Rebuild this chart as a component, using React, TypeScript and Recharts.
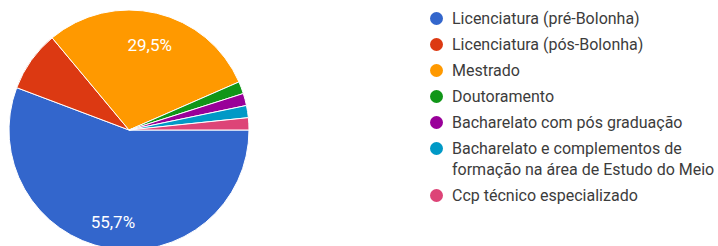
import React from "react";
import { PieChart, Pie, Cell, Legend } from "recharts";

const categories = [
  "Licenciatura (pré-Bolonha)",
  "Licenciatura (pós-Bolonha)",
  "Mestrado",
  "Doutoramento",
  "Bacharelato com pós graduação",
  "Bacharelato e complementos de formação na área de Estudo do Meio",
  "Ccp técnico especializado",
];
const counts = [34, 5, 18, 1, 1, 1, 1];
const colors = ["#3366cc", "#dc3912", "#ff9900", "#109618", "#990099", "#0099c6", "#dd4477"];

const data = categories.map((name, i) => ({ name, value: counts[i] }));
const RADIAN = Math.PI / 180;

const renderLabel = (props: any) => {
  const { cx, cy, midAngle, outerRadius, percent } = props;
  if (percent < 0.1) return null;
  const r = outerRadius * 0.75;
  const x = cx + r * Math.cos(-midAngle * RADIAN);
  const y = cy + r * Math.sin(-midAngle * RADIAN) + 3;
  return (
    <text
      x={x}
      y={y}
      fill="#ffffff"
      textAnchor="middle"
      dominantBaseline="central"
      style={{ fontFamily: "Roboto, Arial, sans-serif", fontSize: 17 }}
    >
      {(percent * 100).toFixed(1).replace(".", ",") + "%"}
    </text>
  );
};

const renderLegend = () => (
  <div style={{ fontFamily: "Roboto, Arial, sans-serif", fontSize: 16, color: "#3c3c3c" }}>
    {data.map((d, i) => (
      <div
        key={d.name}
        style={{ display: "flex", alignItems: "flex-start", lineHeight: "21px", marginBottom: 5 }}
      >
        <span
          style={{
            width: 13,
            height: 13,
            borderRadius: "50%",
            background: colors[i],
            marginTop: 4,
            marginRight: 9,
            flex: "0 0 13px",
          }}
        />
        <span style={{ width: 270 }}>{d.name}</span>
      </div>
    ))}
  </div>
);

export default function App() {
  return (
    <div style={{ position: "fixed", left: 0, top: 0, width: 718, height: 246, background: "#fff" }}>
      <PieChart width={718} height={246}>
        <Pie
          data={data}
          dataKey="value"
          nameKey="name"
          cx={124}
          cy={125}
          outerRadius={120}
          startAngle={0}
          endAngle={-360}
          stroke="#ffffff"
          strokeWidth={1}
          labelLine={false}
          label={renderLabel}
          isAnimationActive={false}
        >
          {data.map((d, i) => (
            <Cell key={d.name} fill={colors[i]} />
          ))}
        </Pie>
        <Legend
          content={renderLegend}
          wrapperStyle={{ position: "absolute", left: 430, top: 8, width: 288 }}
        />
      </PieChart>
    </div>
  );
}
